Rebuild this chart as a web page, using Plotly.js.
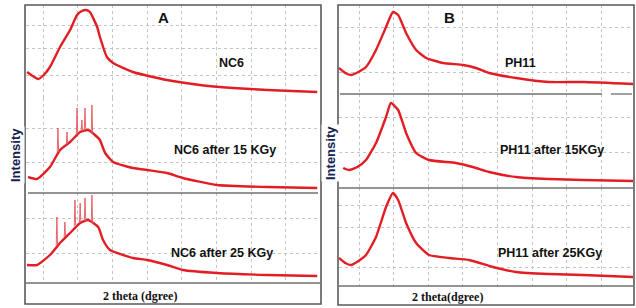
<!DOCTYPE html>
<html><head><meta charset="utf-8">
<script src="https://cdn.plot.ly/plotly-3.0.1.min.js"></script>
<style>html,body{margin:0;padding:0;background:#fff;}#chart{width:636px;height:308px;}</style>
</head><body><div id="chart"></div>
<script>
// 2 theta (degree) and intensity (a.u.)
const nc6_x = [5.4, 7.0, 8.6, 10.2, 12, 14.9, 17.8, 19.8, 21.2, 22.4, 23.5, 25.6, 26.4, 28.4, 30.2, 35.9, 45.7, 55.2, 64.8, 74.6, 89];
const nc6_y = [26, 22, 19, 23, 31, 51, 68, 83, 87, 88, 86, 71, 61, 41, 35, 26, 18, 13, 10, 8, 6];

const nc6_15_x = [5.7, 8.3, 12, 14.9, 17.8, 20.7, 23, 25.6, 26.4, 27.9, 30.2, 35.9, 40, 45.7, 50.3, 60.1, 74.6, 89];
const nc6_15_y = [16, 14, 26, 43, 51, 61, 63, 56, 53, 40, 31, 25, 23, 20, 15, 8, 6, 5];
// sharp peaks on top of the broad hump (start, top, end)
const nc6_15_px = [14.1, 14.3, 14.5, null, 16.7, 16.9, 17.1, null, 19.6, 19.8, 20.0, null, 21.0, 21.2, 21.4, null, 21.9, 22.1, 22.3, null, 23.9, 24.1, 24.3];
const nc6_15_py = [40, 65, 41, null, 48, 61, 49, null, 58, 85, 59, null, 62, 73, 62, null, 63, 85, 63, null, 60, 88, 59];

const nc6_25_x = [5.4, 8.3, 12, 14.9, 17.8, 20.7, 23, 25.9, 27.3, 29.3, 35.9, 40, 45.7, 50.3, 60.1, 74.6, 89];
const nc6_25_y = [18, 18, 28, 40, 50, 60, 63, 56, 43, 33, 25, 23, 18, 13, 10, 8, 7];
const nc6_25_px = [13.8, 14.0, 14.2, null, 16.1, 16.3, 16.5, null, 19.0, 19.2, 19.4, null, 20.5, 20.7, 20.9, null, 21.9, 22.1, 22.3, null, 23.9, 24.1, 24.3];
const nc6_25_py = [37, 66, 38, null, 46, 61, 47, null, 57, 83, 58, null, 60, 80, 61, null, 62, 85, 62, null, 60, 88, 59];

const ph11_x = [4.2, 6.0, 7.7, 9.8, 12, 14.9, 17.8, 19.8, 21.3, 23.6, 26.5, 29.4, 34.3, 40.1, 43.8, 47.6, 55.4, 64.9, 74.7, 89.2];
const ph11_y = [26, 21, 19, 22, 27, 44, 67, 82, 79, 61, 44, 36, 31, 29, 26, 21, 16, 12, 12, 10];

const ph11_15_x = [5.4, 7.1, 9.5, 12, 14.9, 17.8, 19.2, 21.3, 23.6, 26.5, 30.2, 38, 42.9, 47.6, 55.4, 64.9, 74.7, 89.2];
const ph11_15_y = [20, 18, 21, 28, 45, 71, 85, 78, 55, 35, 28, 25, 21, 16, 11, 9, 8, 7];

const ph11_25_x = [4.2, 6.0, 7.7, 9.8, 12, 14.9, 17.8, 19.8, 21.3, 23.6, 26.5, 30.2, 36, 41.8, 48.7, 55.4, 64.9, 74.7, 89.2];
const ph11_25_y = [28, 23, 21, 25, 31, 49, 79, 93, 86, 63, 43, 31, 28, 26, 19, 14, 12, 11, 9];

const sampleLabels = ["NC6", "NC6 after 15 KGy", "NC6 after 25 KGy", "PH11", "PH11 after 15KGy", "PH11 after 25KGy"];
const panelLabels = ["A", "B"];
const xTitles = ["2 theta (dgree)", "2 theta(dgree)"];
const yTitle = "Intensity";

const W = 636, H = 308;
const px = v => v / W;
const py = v => 1 - v / H;
const red = '#e21d24';

function tr(x, y, xa, ya, shape, width, color) {
  return {x: x, y: y, xaxis: xa, yaxis: ya, type: 'scatter', mode: 'lines', connectgaps: false,
    line: {color: color || red, width: width || 2.4, shape: shape, smoothing: 0.5}, hoverinfo: 'skip'};
}
const data = [
  tr(nc6_x, nc6_y, 'x', 'y', 'spline'),
  tr(nc6_15_x, nc6_15_y, 'x2', 'y2', 'spline'),
  tr(nc6_15_px, nc6_15_py, 'x2', 'y2', 'linear', 0.9, '#e8555a'),
  tr(nc6_25_x, nc6_25_y, 'x3', 'y3', 'spline'),
  tr(nc6_25_px, nc6_25_py, 'x3', 'y3', 'linear', 0.9, '#e8555a'),
  tr(ph11_x, ph11_y, 'x4', 'y4', 'spline'),
  tr(ph11_15_x, ph11_15_y, 'x5', 'y5', 'spline'),
  tr(ph11_25_x, ph11_25_y, 'x6', 'y6', 'spline')
];

function xa(dom, rng) {
  return {domain: dom, range: rng, showticklabels: false, ticks: '', zeroline: false,
    showgrid: true, gridcolor: '#c4c4c4', griddash: 'dot', gridwidth: 1,
    tickvals: [10, 20, 30, 40, 50, 60, 70, 80], showline: false, fixedrange: true};
}
function ya(dom, rng, grid, anchor) {
  return {domain: dom, range: rng, showticklabels: false, ticks: '', zeroline: false,
    showgrid: true, gridcolor: '#c4c4c4', griddash: 'dot', gridwidth: 1,
    tickvals: grid, showline: false, anchor: anchor, fixedrange: true};
}
const domA = [px(26), px(320)], domB = [px(339), px(633)];
const rA = [5.1, 89.8], rB = [4.2, 89.2];

const layout = {
  width: W, height: H, margin: {l: 0, r: 0, t: 0, b: 0},
  paper_bgcolor: '#fff', plot_bgcolor: 'rgba(0,0,0,0)', showlegend: false,
  xaxis: xa(domA, rA), xaxis2: Object.assign(xa(domA, rA), {anchor: 'y2'}), xaxis3: Object.assign(xa(domA, rA), {anchor: 'y3'}),
  xaxis4: Object.assign(xa(domB, rB), {anchor: 'y4'}), xaxis5: Object.assign(xa(domB, rB), {anchor: 'y5'}), xaxis6: Object.assign(xa(domB, rB), {anchor: 'y6'}),
  yaxis: ya([py(98), py(5)], [0, 93], [23, 50, 73], 'x'),
  yaxis2: ya([py(193), py(98)], [0, 95], [31, 65], 'x2'),
  yaxis3: ya([py(283), py(193)], [0, 90], [30, 65], 'x3'),
  yaxis4: ya([py(94), py(5)], [0, 89], [22, 67], 'x4'),
  yaxis5: ya([py(188), py(94)], [0, 94], [36, 71], 'x5'),
  yaxis6: ya([py(286), py(188)], [0, 98], [19, 59, 81], 'x6'),
  shapes: [
    {type: 'rect', xref: 'paper', yref: 'paper', x0: px(25), x1: px(321), y0: py(304), y1: py(5), line: {color: '#5a5a5a', width: 1.6}},
    {type: 'rect', xref: 'paper', yref: 'paper', x0: px(338), x1: px(634), y0: py(305), y1: py(5), line: {color: '#5a5a5a', width: 1.6}},
    {type: 'line', xref: 'paper', yref: 'paper', x0: px(28), x1: px(318), y0: py(193), y1: py(193), line: {color: '#707070', width: 1.3}},
    {type: 'line', xref: 'paper', yref: 'paper', x0: px(26), x1: px(320), y0: py(283), y1: py(283), line: {color: '#707070', width: 1.3}},
    {type: 'line', xref: 'paper', yref: 'paper', x0: px(340), x1: px(602), y0: py(94), y1: py(94), line: {color: '#707070', width: 1.3}},
    {type: 'line', xref: 'paper', yref: 'paper', x0: px(611), x1: px(632), y0: py(94), y1: py(94), line: {color: '#707070', width: 1.3}},
    {type: 'line', xref: 'paper', yref: 'paper', x0: px(339), x1: px(633), y0: py(188), y1: py(188), line: {color: '#707070', width: 1.3}},
    {type: 'line', xref: 'paper', yref: 'paper', x0: px(339), x1: px(633), y0: py(286), y1: py(286), line: {color: '#707070', width: 1.3}}
  ],
  annotations: []
};
const lblFont = {family: 'Liberation Sans, Arial, sans-serif', size: 12.5, color: '#111'};
function ann(text, x, y, font, extra) {
  layout.annotations.push(Object.assign({text: text, xref: 'paper', yref: 'paper', x: px(x), y: py(y),
    xanchor: 'center', yanchor: 'middle', showarrow: false, font: font}, extra || {}));
}
ann('<b>' + panelLabels[0] + '</b>', 163, 18, {family: 'Liberation Sans, Arial', size: 15, color: '#111'});
ann('<b>' + panelLabels[1] + '</b>', 449, 17, {family: 'Liberation Sans, Arial', size: 15, color: '#111'});
ann('<b>' + sampleLabels[0] + '</b>', 232, 63, lblFont);
ann('<b>' + sampleLabels[1] + '</b>', 225, 150, lblFont);
ann('<b>' + sampleLabels[2] + '</b>', 222, 253, lblFont);
ann('<b>' + sampleLabels[3] + '</b>', 520, 63, lblFont);
ann('<b>' + sampleLabels[4] + '</b>', 552, 150, lblFont);
ann('<b>' + sampleLabels[5] + '</b>', 550, 253, lblFont);
const xtFont = {family: 'Liberation Serif, Times New Roman, serif', size: 12, color: '#111'};
ann('<b>' + xTitles[0] + '</b>', 140, 296, xtFont);
ann('<b>' + xTitles[1] + '</b>', 448, 297, xtFont);
const ytFont = {family: 'Liberation Sans, Arial', size: 13, color: '#16224f'};
ann('<b>' + yTitle + '</b>', 15, 155, ytFont, {textangle: -90, bgcolor: '#fff'});
ann('<b>' + yTitle + '</b>', 330, 153, ytFont, {textangle: -90, bgcolor: '#fff'});

Plotly.newPlot('chart', data, layout, {staticPlot: true, displayModeBar: false});
</script></body></html>
